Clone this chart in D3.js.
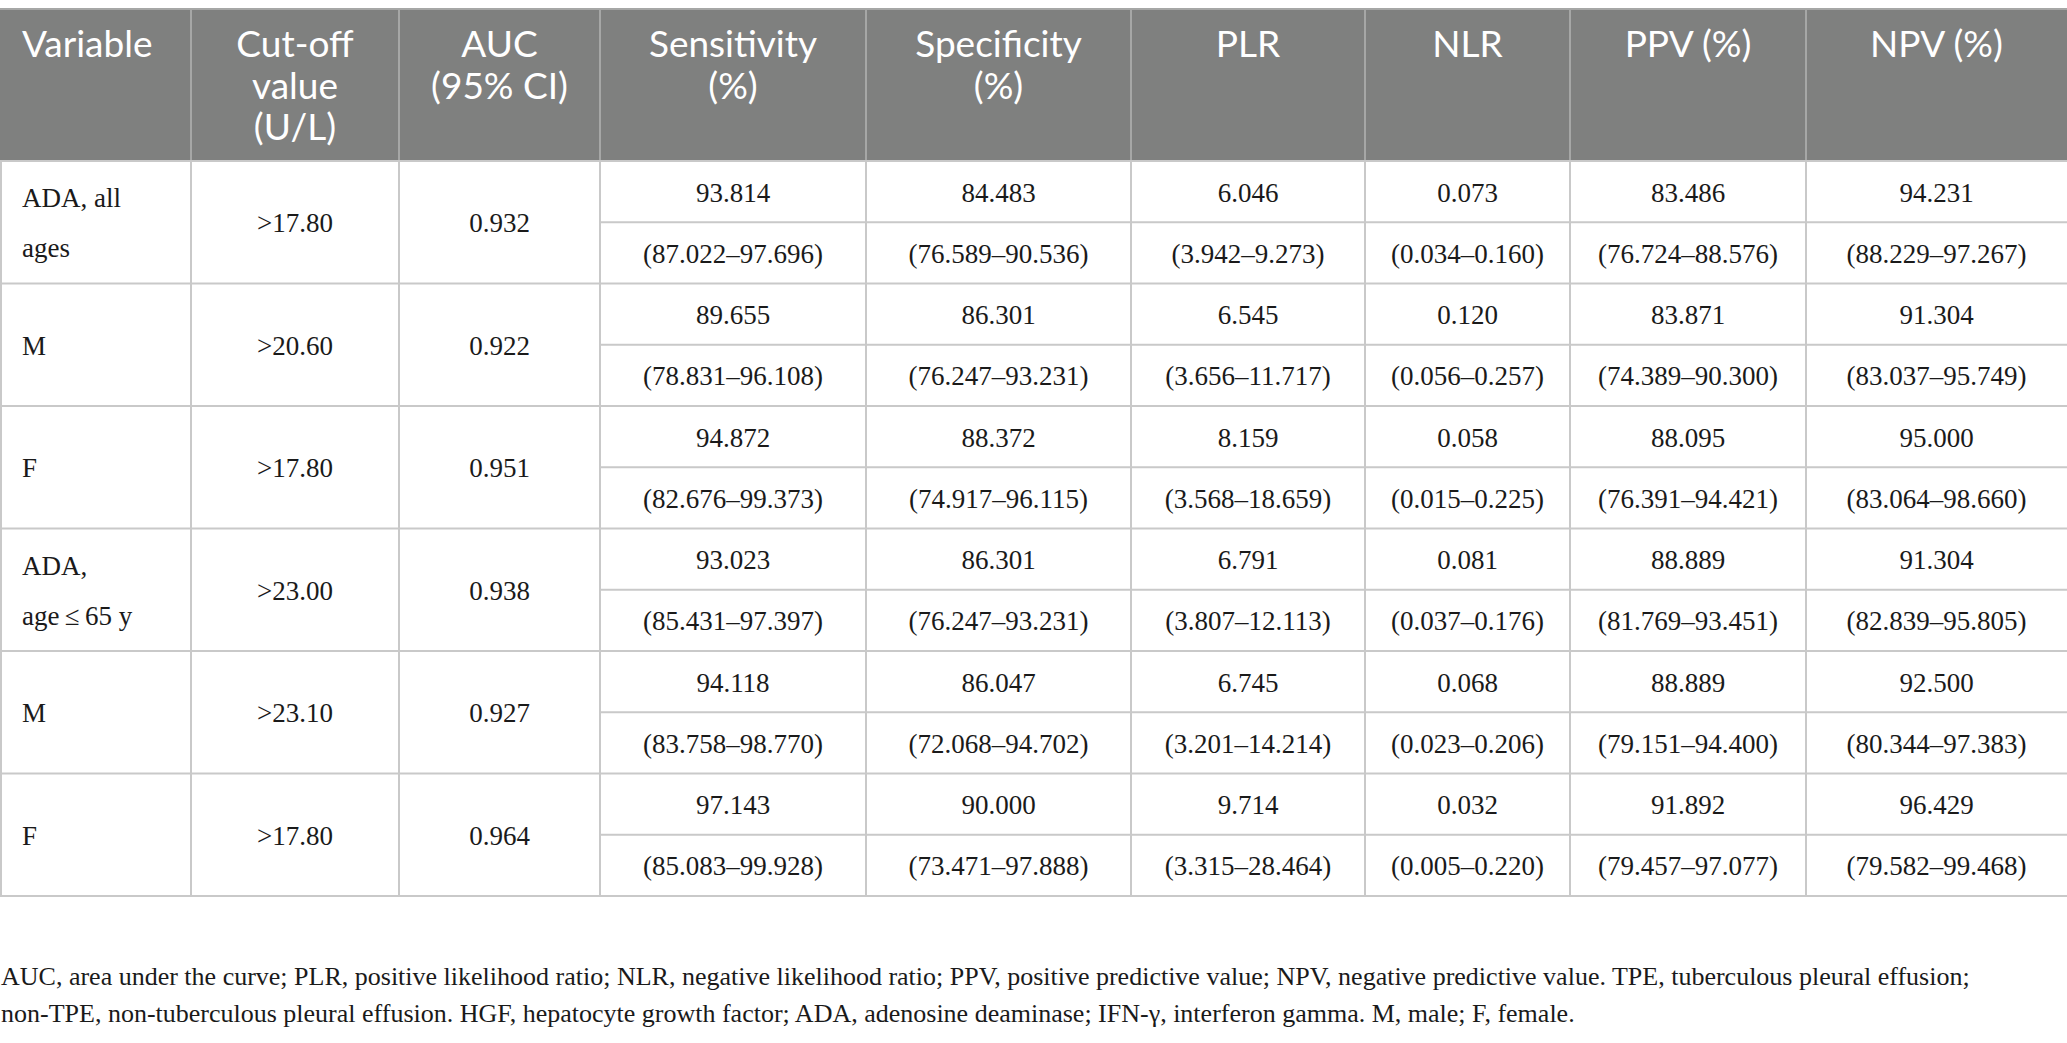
<!DOCTYPE html>
<html><head><meta charset="utf-8">
<script src="https://cdn.jsdelivr.net/npm/d3@7/dist/d3.min.js"></script>
<style>
html,body{margin:0;padding:0;background:#fff;}
svg{display:block;}
.serif{font-family:"Liberation Serif","Tinos","Times New Roman",serif;}
.sans{font-family:"Lato","Open Sans","Noto Sans",sans-serif;}
</style></head>
<body>
<svg id="chart" width="2067" height="1043"></svg>
<script>
// ---------- data ----------
const headers = [["Variable"], ["Cut-off","value","(U/L)"], ["AUC","(95% CI)"], ["Sensitivity","(%)"], ["Specificity","(%)"], ["PLR"], ["NLR"], ["PPV (%)"], ["NPV (%)"]];
const variables = [["ADA, all","ages"], ["M"], ["F"], ["ADA,","age\u2009\u2264\u200965 y"], ["M"], ["F"]];
const cutoffs = [">17.80", ">20.60", ">17.80", ">23.00", ">23.10", ">17.80"];
const aucs = ["0.932", "0.922", "0.951", "0.938", "0.927", "0.964"];
const sensitivity = ["93.814","89.655","94.872","93.023","94.118","97.143"];
const sensitivityCI = ["(87.022\u201397.696)","(78.831\u201396.108)","(82.676\u201399.373)","(85.431\u201397.397)","(83.758\u201398.770)","(85.083\u201399.928)"];
const specificity = ["84.483","86.301","88.372","86.301","86.047","90.000"];
const specificityCI = ["(76.589\u201390.536)","(76.247\u201393.231)","(74.917\u201396.115)","(76.247\u201393.231)","(72.068\u201394.702)","(73.471\u201397.888)"];
const plr = ["6.046","6.545","8.159","6.791","6.745","9.714"];
const plrCI = ["(3.942\u20139.273)","(3.656\u201311.717)","(3.568\u201318.659)","(3.807\u201312.113)","(3.201\u201314.214)","(3.315\u201328.464)"];
const nlr = ["0.073","0.120","0.058","0.081","0.068","0.032"];
const nlrCI = ["(0.034\u20130.160)","(0.056\u20130.257)","(0.015\u20130.225)","(0.037\u20130.176)","(0.023\u20130.206)","(0.005\u20130.220)"];
const ppv = ["83.486","83.871","88.095","88.889","88.889","91.892"];
const ppvCI = ["(76.724\u201388.576)","(74.389\u201390.300)","(76.391\u201394.421)","(81.769\u201393.451)","(79.151\u201394.400)","(79.457\u201397.077)"];
const npv = ["94.231","91.304","95.000","91.304","92.500","96.429"];
const npvCI = ["(88.229\u201397.267)","(83.037\u201395.749)","(83.064\u201398.660)","(82.839\u201395.805)","(80.344\u201397.383)","(79.582\u201399.468)"];
const footnote = [
 "AUC, area under the curve; PLR, positive likelihood ratio; NLR, negative likelihood ratio; PPV, positive predictive value; NPV, negative predictive value. TPE, tuberculous pleural effusion;",
 "non-TPE, non-tuberculous pleural effusion. HGF, hepatocyte growth factor; ADA, adenosine deaminase; IFN-\u03b3, interferon gamma. M, male; F, female."
];

// ---------- layout ----------
const W = 2067;
const colWidths = [191, 208, 201, 266, 265, 234, 205, 236, 261];
const headTop = 9, headBottom = 161, tableBottom = 896;
const headBg = "#7f807f", headLine = "#a6a7a6", gridLine = "#c9c9c9";
const bodySize = 27, headSize = 37;

const svg = d3.select("#chart");
const colEdges = d3.cumsum([0, ...colWidths]);
const nCols = colWidths.length, nRows = variables.length;
const xEdge = i => colEdges[i];
const xCenter = i => (colEdges[i] + colEdges[i+1]) / 2;
const y = d3.scaleLinear().domain([0, nRows]).range([headBottom, tableBottom]);

// header background
svg.append("rect").attr("x",0).attr("y",headTop).attr("width",W).attr("height",headBottom-headTop).attr("fill",headBg);
svg.append("line").attr("x1",0).attr("x2",W).attr("y1",headTop).attr("y2",headTop).attr("stroke",headLine).attr("stroke-width",2);

// header dividers
svg.selectAll(".hdiv").data(d3.range(1,nCols)).join("line")
  .attr("x1",d=>xEdge(d)).attr("x2",d=>xEdge(d)).attr("y1",headTop).attr("y2",headBottom)
  .attr("stroke",headLine).attr("stroke-width",2);

// header texts
const hLine = 41.5, hFirst = 57;
headers.forEach((lines,c)=>{
  const t = svg.append("text").attr("class","sans")
    .attr("font-size",headSize).attr("fill","#fff")
    .attr("text-anchor", c===0 ? "start" : "middle");
  lines.forEach((ln,k)=>{
    t.append("tspan").attr("x", c===0 ? 22 : xCenter(c)).attr("y", hFirst + k*hLine).text(ln);
  });
});

// body grid
const g = svg.append("g");
g.selectAll(".rline").data(d3.range(0,nRows+1)).join("line")
  .attr("x1",0).attr("x2",W).attr("y1",d=>y(d)).attr("y2",d=>y(d))
  .attr("stroke",gridLine).attr("stroke-width",2);
g.selectAll(".hline").data(d3.range(0,nRows)).join("line")
  .attr("x1",xEdge(3)).attr("x2",W).attr("y1",d=>y(d+0.5)).attr("y2",d=>y(d+0.5))
  .attr("stroke",gridLine).attr("stroke-width",2);
g.selectAll(".vline").data(d3.range(0,nCols)).join("line")
  .attr("x1",d=>xEdge(d)+(d===0?1:0)).attr("x2",d=>xEdge(d)+(d===0?1:0)).attr("y1",headBottom).attr("y2",tableBottom)
  .attr("stroke",gridLine).attr("stroke-width",2);

// body text
const base = 10;
const bodyText = (x, yy, s, anchor) => svg.append("text").attr("class","serif")
  .attr("x",x).attr("y",yy).attr("font-size",bodySize)
  .attr("fill","#1a1a1a").attr("text-anchor",anchor||"middle").text(s);

variables.forEach((lines,r)=>{
  const cy = y(r+0.5) + base;
  const off = (lines.length-1) * 25;
  lines.forEach((ln,k)=> bodyText(22, cy - off + k*50, ln, "start"));
  bodyText(xCenter(1), cy, cutoffs[r]);
  bodyText(xCenter(2), cy, aucs[r]);
});

const valueCols = [[sensitivity,sensitivityCI],[specificity,specificityCI],[plr,plrCI],[nlr,nlrCI],[ppv,ppvCI],[npv,npvCI]];
valueCols.forEach(([vals,cis],j)=>{
  const c = j + 3;
  vals.forEach((v,r)=>{
    bodyText(xCenter(c), y(r+0.25) + base, v);
    bodyText(xCenter(c), y(r+0.75) + base, cis[r]);
  });
});

// footnote
footnote.forEach((ln,k)=>{
  svg.append("text").attr("class","serif").attr("x",1).attr("y",985 + k*37)
    .attr("font-size",26).attr("fill","#1a1a1a").text(ln);
});
</script>
</body></html>
